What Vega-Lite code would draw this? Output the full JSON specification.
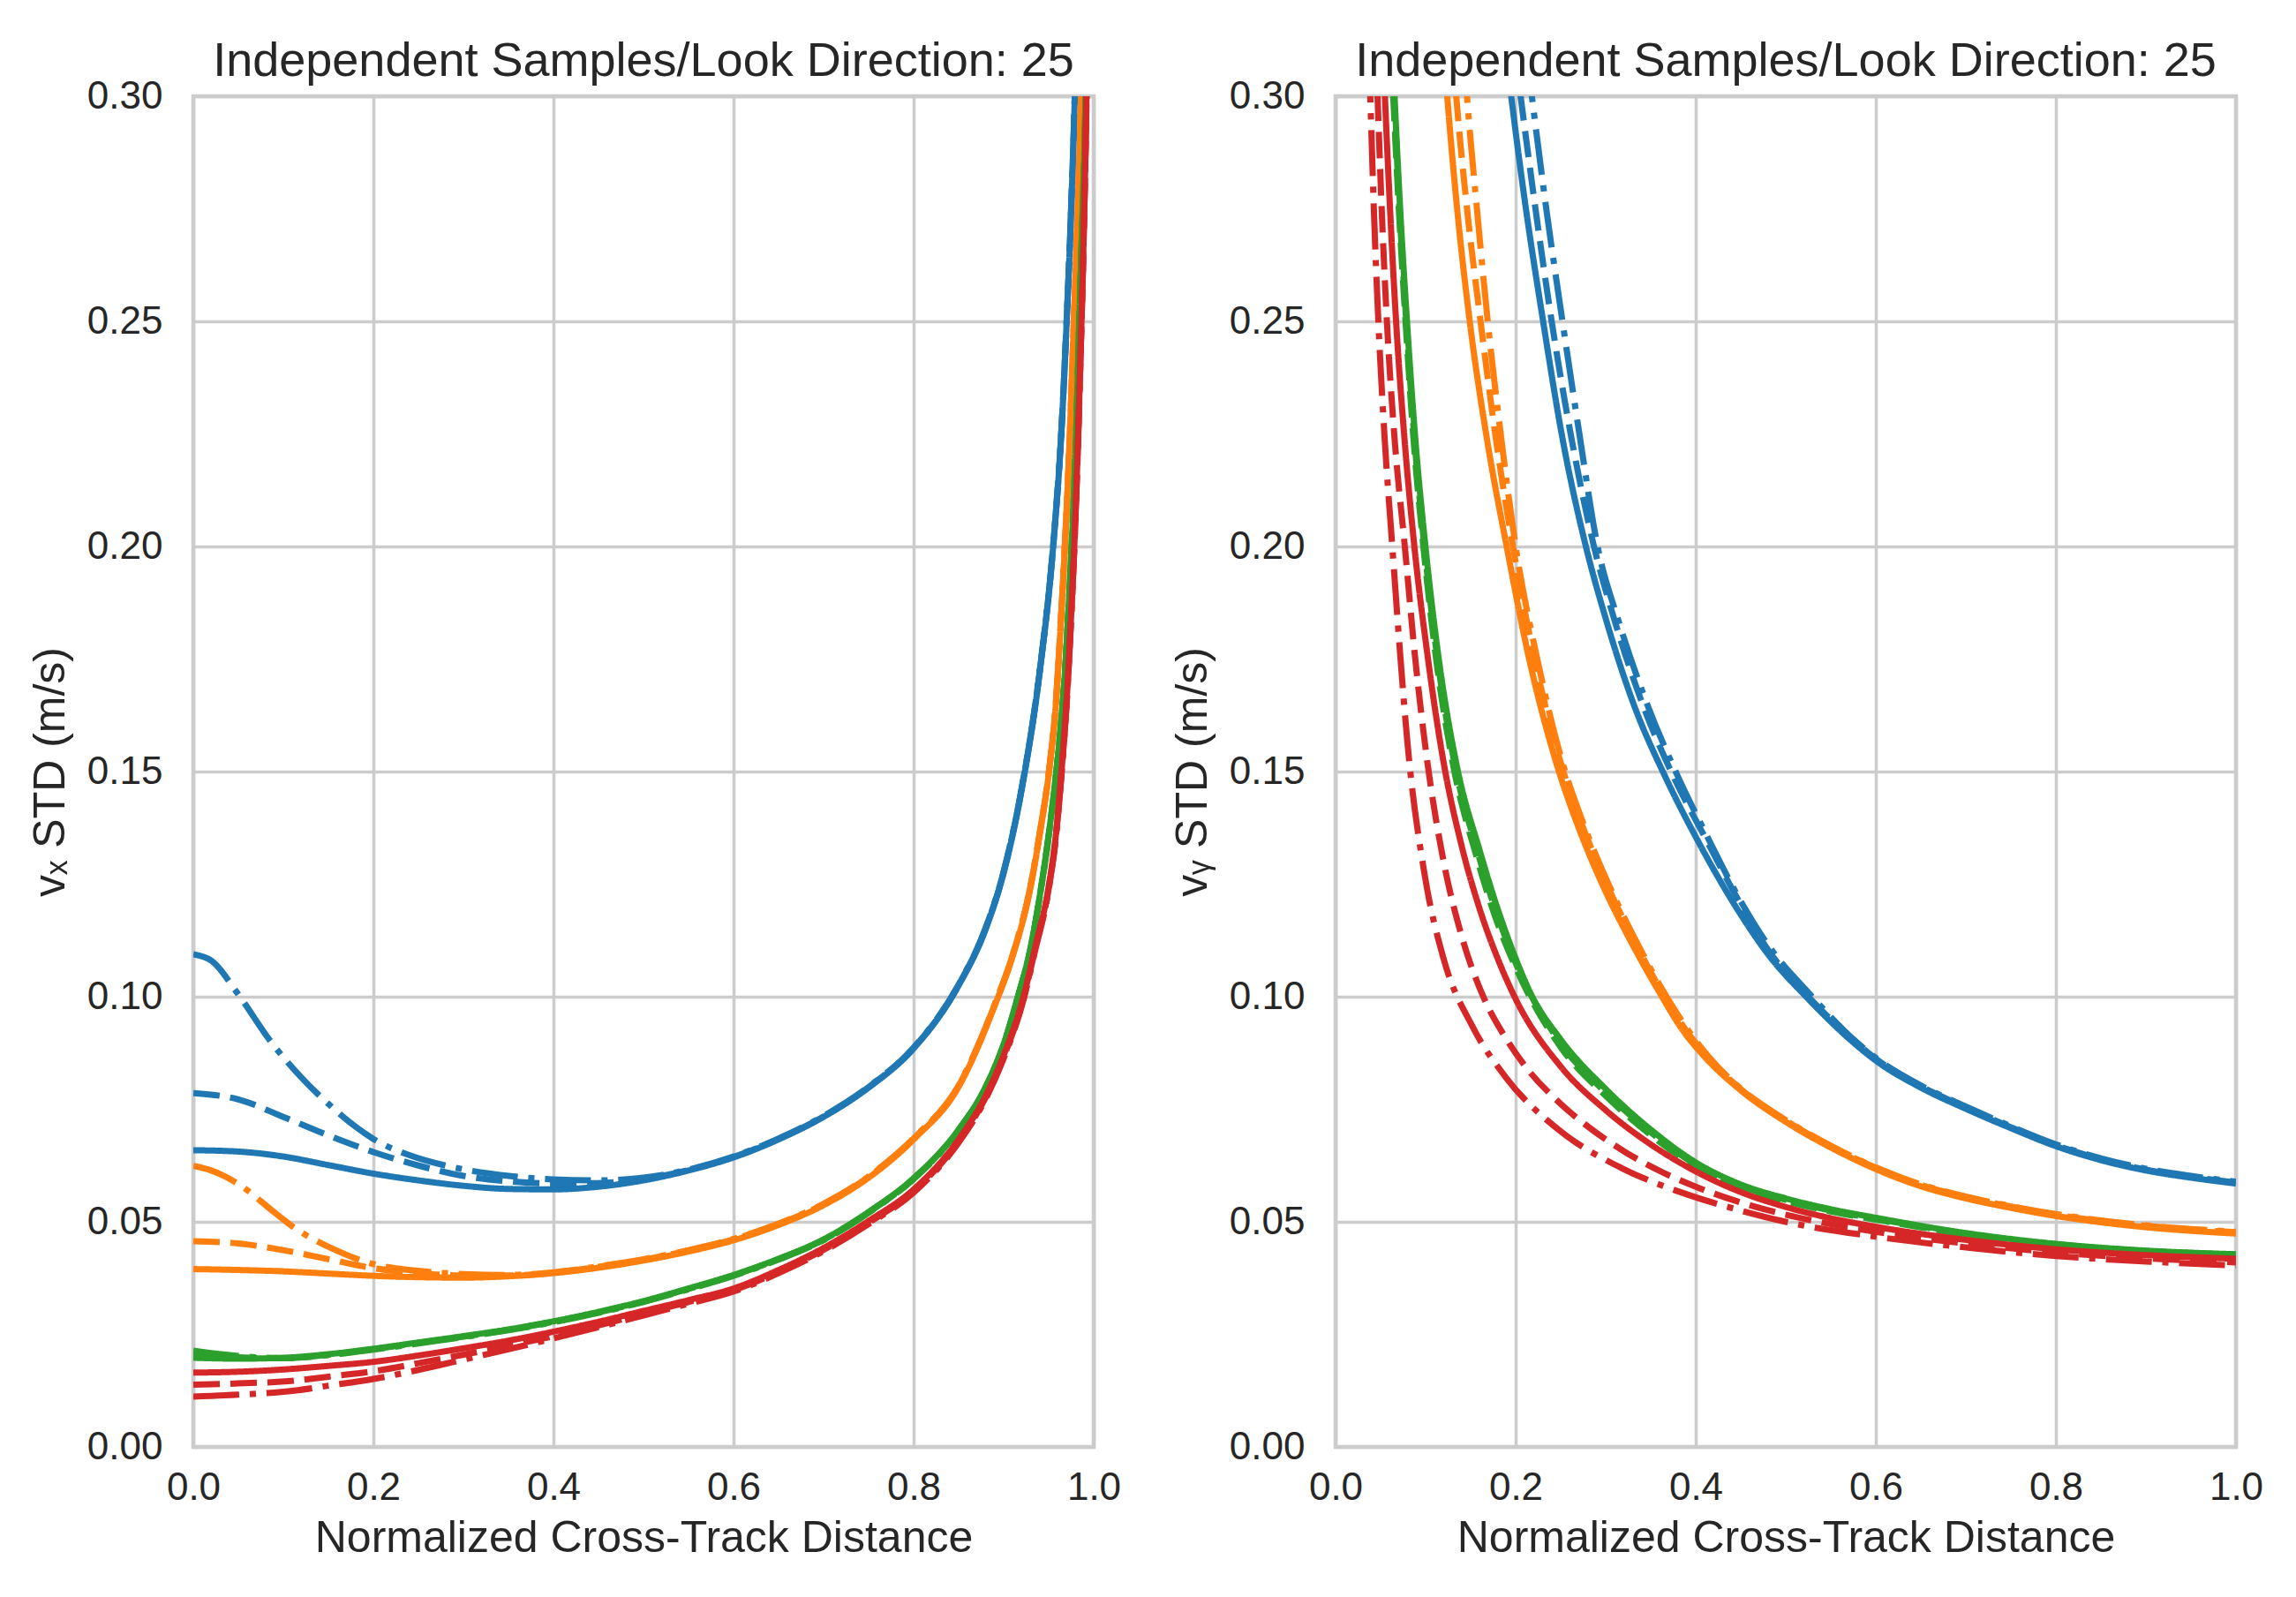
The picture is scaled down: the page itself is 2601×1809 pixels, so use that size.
{
  "$schema": "https://vega.github.io/schema/vega-lite/v6.json",
  "background": "white",
  "padding": {"left": 30, "top": 40, "right": 10, "bottom": 10},
  "bounds": "flush",
  "spacing": 274,
  "datasets": {
    "curves": [
      {"panel":"vx","group":"blue","style":"solid","x":0,"y":0.0659},
      {"panel":"vx","group":"blue","style":"solid","x":0.05,"y":0.0656},
      {"panel":"vx","group":"blue","style":"solid","x":0.1,"y":0.0645},
      {"panel":"vx","group":"blue","style":"solid","x":0.15,"y":0.0626},
      {"panel":"vx","group":"blue","style":"solid","x":0.2,"y":0.0607},
      {"panel":"vx","group":"blue","style":"solid","x":0.25,"y":0.0592},
      {"panel":"vx","group":"blue","style":"solid","x":0.3,"y":0.058},
      {"panel":"vx","group":"blue","style":"solid","x":0.35,"y":0.0573},
      {"panel":"vx","group":"blue","style":"solid","x":0.4,"y":0.0572},
      {"panel":"vx","group":"blue","style":"solid","x":0.45,"y":0.0578},
      {"panel":"vx","group":"blue","style":"solid","x":0.5,"y":0.0592},
      {"panel":"vx","group":"blue","style":"solid","x":0.55,"y":0.0614},
      {"panel":"vx","group":"blue","style":"solid","x":0.6,"y":0.0643},
      {"panel":"vx","group":"blue","style":"solid","x":0.65,"y":0.0683},
      {"panel":"vx","group":"blue","style":"solid","x":0.7,"y":0.0733},
      {"panel":"vx","group":"blue","style":"solid","x":0.75,"y":0.0798},
      {"panel":"vx","group":"blue","style":"solid","x":0.8,"y":0.0885},
      {"panel":"vx","group":"blue","style":"solid","x":0.85,"y":0.1025},
      {"panel":"vx","group":"blue","style":"solid","x":0.88,"y":0.115},
      {"panel":"vx","group":"blue","style":"solid","x":0.9,"y":0.1275},
      {"panel":"vx","group":"blue","style":"solid","x":0.92,"y":0.146},
      {"panel":"vx","group":"blue","style":"solid","x":0.94,"y":0.172},
      {"panel":"vx","group":"blue","style":"solid","x":0.955,"y":0.2},
      {"panel":"vx","group":"blue","style":"solid","x":0.964,"y":0.225},
      {"panel":"vx","group":"blue","style":"solid","x":0.97,"y":0.25},
      {"panel":"vx","group":"blue","style":"solid","x":0.975,"y":0.275},
      {"panel":"vx","group":"blue","style":"solid","x":0.979,"y":0.3},
      {"panel":"vx","group":"blue","style":"solid","x":0.984,"y":0.35},

      {"panel":"vx","group":"blue","style":"dashed","x":0,"y":0.0786},
      {"panel":"vx","group":"blue","style":"dashed","x":0.05,"y":0.0772},
      {"panel":"vx","group":"blue","style":"dashed","x":0.1,"y":0.0733},
      {"panel":"vx","group":"blue","style":"dashed","x":0.15,"y":0.0692},
      {"panel":"vx","group":"blue","style":"dashed","x":0.2,"y":0.0655},
      {"panel":"vx","group":"blue","style":"dashed","x":0.25,"y":0.0625},
      {"panel":"vx","group":"blue","style":"dashed","x":0.3,"y":0.0602},
      {"panel":"vx","group":"blue","style":"dashed","x":0.35,"y":0.059},
      {"panel":"vx","group":"blue","style":"dashed","x":0.4,"y":0.0585},
      {"panel":"vx","group":"blue","style":"dashed","x":0.45,"y":0.0586},
      {"panel":"vx","group":"blue","style":"dashed","x":0.5,"y":0.0595},
      {"panel":"vx","group":"blue","style":"dashed","x":0.55,"y":0.0615},
      {"panel":"vx","group":"blue","style":"dashed","x":0.6,"y":0.0644},
      {"panel":"vx","group":"blue","style":"dashed","x":0.65,"y":0.0684},
      {"panel":"vx","group":"blue","style":"dashed","x":0.7,"y":0.0734},
      {"panel":"vx","group":"blue","style":"dashed","x":0.75,"y":0.0799},
      {"panel":"vx","group":"blue","style":"dashed","x":0.8,"y":0.0886},
      {"panel":"vx","group":"blue","style":"dashed","x":0.85,"y":0.1026},
      {"panel":"vx","group":"blue","style":"dashed","x":0.88,"y":0.1152},
      {"panel":"vx","group":"blue","style":"dashed","x":0.9,"y":0.1277},
      {"panel":"vx","group":"blue","style":"dashed","x":0.92,"y":0.1462},
      {"panel":"vx","group":"blue","style":"dashed","x":0.94,"y":0.1722},
      {"panel":"vx","group":"blue","style":"dashed","x":0.955,"y":0.2002},
      {"panel":"vx","group":"blue","style":"dashed","x":0.964,"y":0.2252},
      {"panel":"vx","group":"blue","style":"dashed","x":0.97,"y":0.2502},
      {"panel":"vx","group":"blue","style":"dashed","x":0.975,"y":0.2752},
      {"panel":"vx","group":"blue","style":"dashed","x":0.979,"y":0.3002},
      {"panel":"vx","group":"blue","style":"dashed","x":0.984,"y":0.35},

      {"panel":"vx","group":"blue","style":"dashdot","x":0,"y":0.1094},
      {"panel":"vx","group":"blue","style":"dashdot","x":0.02,"y":0.108},
      {"panel":"vx","group":"blue","style":"dashdot","x":0.05,"y":0.1005},
      {"panel":"vx","group":"blue","style":"dashdot","x":0.085,"y":0.0903},
      {"panel":"vx","group":"blue","style":"dashdot","x":0.125,"y":0.081},
      {"panel":"vx","group":"blue","style":"dashdot","x":0.15,"y":0.0762},
      {"panel":"vx","group":"blue","style":"dashdot","x":0.177,"y":0.0716},
      {"panel":"vx","group":"blue","style":"dashdot","x":0.2,"y":0.0684},
      {"panel":"vx","group":"blue","style":"dashdot","x":0.24,"y":0.0648},
      {"panel":"vx","group":"blue","style":"dashdot","x":0.28,"y":0.0625},
      {"panel":"vx","group":"blue","style":"dashdot","x":0.31,"y":0.0613},
      {"panel":"vx","group":"blue","style":"dashdot","x":0.35,"y":0.0602},
      {"panel":"vx","group":"blue","style":"dashdot","x":0.4,"y":0.0594},
      {"panel":"vx","group":"blue","style":"dashdot","x":0.45,"y":0.0592},
      {"panel":"vx","group":"blue","style":"dashdot","x":0.5,"y":0.0598},
      {"panel":"vx","group":"blue","style":"dashdot","x":0.55,"y":0.0616},
      {"panel":"vx","group":"blue","style":"dashdot","x":0.6,"y":0.0645},
      {"panel":"vx","group":"blue","style":"dashdot","x":0.65,"y":0.0685},
      {"panel":"vx","group":"blue","style":"dashdot","x":0.7,"y":0.0735},
      {"panel":"vx","group":"blue","style":"dashdot","x":0.75,"y":0.08},
      {"panel":"vx","group":"blue","style":"dashdot","x":0.8,"y":0.0887},
      {"panel":"vx","group":"blue","style":"dashdot","x":0.85,"y":0.1027},
      {"panel":"vx","group":"blue","style":"dashdot","x":0.88,"y":0.1153},
      {"panel":"vx","group":"blue","style":"dashdot","x":0.9,"y":0.1278},
      {"panel":"vx","group":"blue","style":"dashdot","x":0.92,"y":0.1463},
      {"panel":"vx","group":"blue","style":"dashdot","x":0.94,"y":0.1723},
      {"panel":"vx","group":"blue","style":"dashdot","x":0.955,"y":0.2003},
      {"panel":"vx","group":"blue","style":"dashdot","x":0.964,"y":0.2253},
      {"panel":"vx","group":"blue","style":"dashdot","x":0.97,"y":0.2503},
      {"panel":"vx","group":"blue","style":"dashdot","x":0.975,"y":0.2753},
      {"panel":"vx","group":"blue","style":"dashdot","x":0.979,"y":0.3003},
      {"panel":"vx","group":"blue","style":"dashdot","x":0.984,"y":0.35},

      {"panel":"vx","group":"orange","style":"solid","x":0,"y":0.0395},
      {"panel":"vx","group":"orange","style":"solid","x":0.05,"y":0.0393},
      {"panel":"vx","group":"orange","style":"solid","x":0.1,"y":0.039},
      {"panel":"vx","group":"orange","style":"solid","x":0.15,"y":0.0385},
      {"panel":"vx","group":"orange","style":"solid","x":0.2,"y":0.038},
      {"panel":"vx","group":"orange","style":"solid","x":0.25,"y":0.0377},
      {"panel":"vx","group":"orange","style":"solid","x":0.3,"y":0.0376},
      {"panel":"vx","group":"orange","style":"solid","x":0.35,"y":0.0379},
      {"panel":"vx","group":"orange","style":"solid","x":0.4,"y":0.0386},
      {"panel":"vx","group":"orange","style":"solid","x":0.45,"y":0.0398},
      {"panel":"vx","group":"orange","style":"solid","x":0.5,"y":0.0414},
      {"panel":"vx","group":"orange","style":"solid","x":0.55,"y":0.0434},
      {"panel":"vx","group":"orange","style":"solid","x":0.6,"y":0.0459},
      {"panel":"vx","group":"orange","style":"solid","x":0.65,"y":0.0493},
      {"panel":"vx","group":"orange","style":"solid","x":0.7,"y":0.0537},
      {"panel":"vx","group":"orange","style":"solid","x":0.75,"y":0.0598},
      {"panel":"vx","group":"orange","style":"solid","x":0.8,"y":0.0683},
      {"panel":"vx","group":"orange","style":"solid","x":0.85,"y":0.08},
      {"panel":"vx","group":"orange","style":"solid","x":0.89,"y":0.098},
      {"panel":"vx","group":"orange","style":"solid","x":0.91,"y":0.109},
      {"panel":"vx","group":"orange","style":"solid","x":0.93,"y":0.1245},
      {"panel":"vx","group":"orange","style":"solid","x":0.94,"y":0.136},
      {"panel":"vx","group":"orange","style":"solid","x":0.951,"y":0.151},
      {"panel":"vx","group":"orange","style":"solid","x":0.958,"y":0.165},
      {"panel":"vx","group":"orange","style":"solid","x":0.964,"y":0.185},
      {"panel":"vx","group":"orange","style":"solid","x":0.968,"y":0.2},
      {"panel":"vx","group":"orange","style":"solid","x":0.973,"y":0.222},
      {"panel":"vx","group":"orange","style":"solid","x":0.978,"y":0.25},
      {"panel":"vx","group":"orange","style":"solid","x":0.982,"y":0.273},
      {"panel":"vx","group":"orange","style":"solid","x":0.986,"y":0.3},
      {"panel":"vx","group":"orange","style":"solid","x":0.99,"y":0.34},

      {"panel":"vx","group":"orange","style":"dashed","x":0,"y":0.0457},
      {"panel":"vx","group":"orange","style":"dashed","x":0.05,"y":0.0452},
      {"panel":"vx","group":"orange","style":"dashed","x":0.1,"y":0.0437},
      {"panel":"vx","group":"orange","style":"dashed","x":0.15,"y":0.0417},
      {"panel":"vx","group":"orange","style":"dashed","x":0.2,"y":0.0397},
      {"panel":"vx","group":"orange","style":"dashed","x":0.25,"y":0.0386},
      {"panel":"vx","group":"orange","style":"dashed","x":0.3,"y":0.0381},
      {"panel":"vx","group":"orange","style":"dashed","x":0.35,"y":0.0381},
      {"panel":"vx","group":"orange","style":"dashed","x":0.4,"y":0.0387},
      {"panel":"vx","group":"orange","style":"dashed","x":0.45,"y":0.04},
      {"panel":"vx","group":"orange","style":"dashed","x":0.5,"y":0.0416},
      {"panel":"vx","group":"orange","style":"dashed","x":0.55,"y":0.0436},
      {"panel":"vx","group":"orange","style":"dashed","x":0.6,"y":0.0461},
      {"panel":"vx","group":"orange","style":"dashed","x":0.65,"y":0.0495},
      {"panel":"vx","group":"orange","style":"dashed","x":0.7,"y":0.0539},
      {"panel":"vx","group":"orange","style":"dashed","x":0.75,"y":0.06},
      {"panel":"vx","group":"orange","style":"dashed","x":0.8,"y":0.0685},
      {"panel":"vx","group":"orange","style":"dashed","x":0.85,"y":0.0802},
      {"panel":"vx","group":"orange","style":"dashed","x":0.89,"y":0.0982},
      {"panel":"vx","group":"orange","style":"dashed","x":0.91,"y":0.1092},
      {"panel":"vx","group":"orange","style":"dashed","x":0.93,"y":0.1247},
      {"panel":"vx","group":"orange","style":"dashed","x":0.94,"y":0.1362},
      {"panel":"vx","group":"orange","style":"dashed","x":0.951,"y":0.1512},
      {"panel":"vx","group":"orange","style":"dashed","x":0.958,"y":0.1652},
      {"panel":"vx","group":"orange","style":"dashed","x":0.964,"y":0.1852},
      {"panel":"vx","group":"orange","style":"dashed","x":0.968,"y":0.2002},
      {"panel":"vx","group":"orange","style":"dashed","x":0.973,"y":0.2222},
      {"panel":"vx","group":"orange","style":"dashed","x":0.978,"y":0.2502},
      {"panel":"vx","group":"orange","style":"dashed","x":0.982,"y":0.2732},
      {"panel":"vx","group":"orange","style":"dashed","x":0.986,"y":0.3002},
      {"panel":"vx","group":"orange","style":"dashed","x":0.99,"y":0.34},

      {"panel":"vx","group":"orange","style":"dashdot","x":0,"y":0.0624},
      {"panel":"vx","group":"orange","style":"dashdot","x":0.02,"y":0.0614},
      {"panel":"vx","group":"orange","style":"dashdot","x":0.05,"y":0.0584},
      {"panel":"vx","group":"orange","style":"dashdot","x":0.09,"y":0.0521},
      {"panel":"vx","group":"orange","style":"dashdot","x":0.112,"y":0.0487},
      {"panel":"vx","group":"orange","style":"dashdot","x":0.155,"y":0.044},
      {"panel":"vx","group":"orange","style":"dashdot","x":0.2,"y":0.0406},
      {"panel":"vx","group":"orange","style":"dashdot","x":0.25,"y":0.0391},
      {"panel":"vx","group":"orange","style":"dashdot","x":0.3,"y":0.0384},
      {"panel":"vx","group":"orange","style":"dashdot","x":0.35,"y":0.0382},
      {"panel":"vx","group":"orange","style":"dashdot","x":0.4,"y":0.0388},
      {"panel":"vx","group":"orange","style":"dashdot","x":0.45,"y":0.0401},
      {"panel":"vx","group":"orange","style":"dashdot","x":0.5,"y":0.0417},
      {"panel":"vx","group":"orange","style":"dashdot","x":0.55,"y":0.0437},
      {"panel":"vx","group":"orange","style":"dashdot","x":0.6,"y":0.0462},
      {"panel":"vx","group":"orange","style":"dashdot","x":0.65,"y":0.0496},
      {"panel":"vx","group":"orange","style":"dashdot","x":0.7,"y":0.054},
      {"panel":"vx","group":"orange","style":"dashdot","x":0.75,"y":0.0601},
      {"panel":"vx","group":"orange","style":"dashdot","x":0.8,"y":0.0686},
      {"panel":"vx","group":"orange","style":"dashdot","x":0.85,"y":0.0803},
      {"panel":"vx","group":"orange","style":"dashdot","x":0.89,"y":0.0983},
      {"panel":"vx","group":"orange","style":"dashdot","x":0.91,"y":0.1093},
      {"panel":"vx","group":"orange","style":"dashdot","x":0.93,"y":0.1248},
      {"panel":"vx","group":"orange","style":"dashdot","x":0.94,"y":0.1363},
      {"panel":"vx","group":"orange","style":"dashdot","x":0.951,"y":0.1513},
      {"panel":"vx","group":"orange","style":"dashdot","x":0.958,"y":0.1653},
      {"panel":"vx","group":"orange","style":"dashdot","x":0.964,"y":0.1853},
      {"panel":"vx","group":"orange","style":"dashdot","x":0.968,"y":0.2003},
      {"panel":"vx","group":"orange","style":"dashdot","x":0.973,"y":0.2223},
      {"panel":"vx","group":"orange","style":"dashdot","x":0.978,"y":0.2503},
      {"panel":"vx","group":"orange","style":"dashdot","x":0.982,"y":0.2733},
      {"panel":"vx","group":"orange","style":"dashdot","x":0.986,"y":0.3003},
      {"panel":"vx","group":"orange","style":"dashdot","x":0.99,"y":0.34},

      {"panel":"vx","group":"green","style":"solid","x":0,"y":0.0198},
      {"panel":"vx","group":"green","style":"solid","x":0.05,"y":0.0196},
      {"panel":"vx","group":"green","style":"solid","x":0.1,"y":0.0198},
      {"panel":"vx","group":"green","style":"solid","x":0.15,"y":0.0206},
      {"panel":"vx","group":"green","style":"solid","x":0.2,"y":0.0218},
      {"panel":"vx","group":"green","style":"solid","x":0.25,"y":0.0232},
      {"panel":"vx","group":"green","style":"solid","x":0.3,"y":0.0246},
      {"panel":"vx","group":"green","style":"solid","x":0.35,"y":0.0261},
      {"panel":"vx","group":"green","style":"solid","x":0.4,"y":0.0279},
      {"panel":"vx","group":"green","style":"solid","x":0.45,"y":0.03},
      {"panel":"vx","group":"green","style":"solid","x":0.5,"y":0.0324},
      {"panel":"vx","group":"green","style":"solid","x":0.55,"y":0.0352},
      {"panel":"vx","group":"green","style":"solid","x":0.6,"y":0.0382},
      {"panel":"vx","group":"green","style":"solid","x":0.65,"y":0.0418},
      {"panel":"vx","group":"green","style":"solid","x":0.7,"y":0.0461},
      {"panel":"vx","group":"green","style":"solid","x":0.75,"y":0.0522},
      {"panel":"vx","group":"green","style":"solid","x":0.8,"y":0.0597},
      {"panel":"vx","group":"green","style":"solid","x":0.85,"y":0.0705},
      {"panel":"vx","group":"green","style":"solid","x":0.88,"y":0.08},
      {"panel":"vx","group":"green","style":"solid","x":0.9,"y":0.0895},
      {"panel":"vx","group":"green","style":"solid","x":0.915,"y":0.0995},
      {"panel":"vx","group":"green","style":"solid","x":0.93,"y":0.111},
      {"panel":"vx","group":"green","style":"solid","x":0.941,"y":0.1235},
      {"panel":"vx","group":"green","style":"solid","x":0.952,"y":0.139},
      {"panel":"vx","group":"green","style":"solid","x":0.961,"y":0.155},
      {"panel":"vx","group":"green","style":"solid","x":0.968,"y":0.172},
      {"panel":"vx","group":"green","style":"solid","x":0.973,"y":0.19},
      {"panel":"vx","group":"green","style":"solid","x":0.977,"y":0.207},
      {"panel":"vx","group":"green","style":"solid","x":0.981,"y":0.228},
      {"panel":"vx","group":"green","style":"solid","x":0.984,"y":0.25},
      {"panel":"vx","group":"green","style":"solid","x":0.987,"y":0.27},
      {"panel":"vx","group":"green","style":"solid","x":0.991,"y":0.3},
      {"panel":"vx","group":"green","style":"solid","x":0.994,"y":0.34},

      {"panel":"vx","group":"green","style":"dashed","x":0,"y":0.0206},
      {"panel":"vx","group":"green","style":"dashed","x":0.05,"y":0.0199},
      {"panel":"vx","group":"green","style":"dashed","x":0.1,"y":0.0197},
      {"panel":"vx","group":"green","style":"dashed","x":0.15,"y":0.0205},
      {"panel":"vx","group":"green","style":"dashed","x":0.2,"y":0.0217},
      {"panel":"vx","group":"green","style":"dashed","x":0.25,"y":0.0231},
      {"panel":"vx","group":"green","style":"dashed","x":0.3,"y":0.0245},
      {"panel":"vx","group":"green","style":"dashed","x":0.35,"y":0.026},
      {"panel":"vx","group":"green","style":"dashed","x":0.4,"y":0.0278},
      {"panel":"vx","group":"green","style":"dashed","x":0.45,"y":0.0299},
      {"panel":"vx","group":"green","style":"dashed","x":0.5,"y":0.0323},
      {"panel":"vx","group":"green","style":"dashed","x":0.55,"y":0.0351},
      {"panel":"vx","group":"green","style":"dashed","x":0.6,"y":0.0381},
      {"panel":"vx","group":"green","style":"dashed","x":0.65,"y":0.0417},
      {"panel":"vx","group":"green","style":"dashed","x":0.7,"y":0.046},
      {"panel":"vx","group":"green","style":"dashed","x":0.75,"y":0.0521},
      {"panel":"vx","group":"green","style":"dashed","x":0.8,"y":0.0596},
      {"panel":"vx","group":"green","style":"dashed","x":0.85,"y":0.0704},
      {"panel":"vx","group":"green","style":"dashed","x":0.88,"y":0.0799},
      {"panel":"vx","group":"green","style":"dashed","x":0.9,"y":0.0894},
      {"panel":"vx","group":"green","style":"dashed","x":0.915,"y":0.0994},
      {"panel":"vx","group":"green","style":"dashed","x":0.93,"y":0.1109},
      {"panel":"vx","group":"green","style":"dashed","x":0.941,"y":0.1234},
      {"panel":"vx","group":"green","style":"dashed","x":0.952,"y":0.1389},
      {"panel":"vx","group":"green","style":"dashed","x":0.961,"y":0.1549},
      {"panel":"vx","group":"green","style":"dashed","x":0.968,"y":0.1719},
      {"panel":"vx","group":"green","style":"dashed","x":0.973,"y":0.1899},
      {"panel":"vx","group":"green","style":"dashed","x":0.977,"y":0.2069},
      {"panel":"vx","group":"green","style":"dashed","x":0.981,"y":0.2279},
      {"panel":"vx","group":"green","style":"dashed","x":0.984,"y":0.2499},
      {"panel":"vx","group":"green","style":"dashed","x":0.987,"y":0.2699},
      {"panel":"vx","group":"green","style":"dashed","x":0.991,"y":0.2999},
      {"panel":"vx","group":"green","style":"dashed","x":0.994,"y":0.34},

      {"panel":"vx","group":"green","style":"dashdot","x":0,"y":0.0214},
      {"panel":"vx","group":"green","style":"dashdot","x":0.05,"y":0.0202},
      {"panel":"vx","group":"green","style":"dashdot","x":0.1,"y":0.0197},
      {"panel":"vx","group":"green","style":"dashdot","x":0.15,"y":0.0204},
      {"panel":"vx","group":"green","style":"dashdot","x":0.2,"y":0.0216},
      {"panel":"vx","group":"green","style":"dashdot","x":0.25,"y":0.023},
      {"panel":"vx","group":"green","style":"dashdot","x":0.3,"y":0.0244},
      {"panel":"vx","group":"green","style":"dashdot","x":0.35,"y":0.0259},
      {"panel":"vx","group":"green","style":"dashdot","x":0.4,"y":0.0277},
      {"panel":"vx","group":"green","style":"dashdot","x":0.45,"y":0.0298},
      {"panel":"vx","group":"green","style":"dashdot","x":0.5,"y":0.0322},
      {"panel":"vx","group":"green","style":"dashdot","x":0.55,"y":0.035},
      {"panel":"vx","group":"green","style":"dashdot","x":0.6,"y":0.038},
      {"panel":"vx","group":"green","style":"dashdot","x":0.65,"y":0.0416},
      {"panel":"vx","group":"green","style":"dashdot","x":0.7,"y":0.0459},
      {"panel":"vx","group":"green","style":"dashdot","x":0.75,"y":0.052},
      {"panel":"vx","group":"green","style":"dashdot","x":0.8,"y":0.0595},
      {"panel":"vx","group":"green","style":"dashdot","x":0.85,"y":0.0703},
      {"panel":"vx","group":"green","style":"dashdot","x":0.88,"y":0.0798},
      {"panel":"vx","group":"green","style":"dashdot","x":0.9,"y":0.0893},
      {"panel":"vx","group":"green","style":"dashdot","x":0.915,"y":0.0993},
      {"panel":"vx","group":"green","style":"dashdot","x":0.93,"y":0.1108},
      {"panel":"vx","group":"green","style":"dashdot","x":0.941,"y":0.1233},
      {"panel":"vx","group":"green","style":"dashdot","x":0.952,"y":0.1388},
      {"panel":"vx","group":"green","style":"dashdot","x":0.961,"y":0.1548},
      {"panel":"vx","group":"green","style":"dashdot","x":0.968,"y":0.1718},
      {"panel":"vx","group":"green","style":"dashdot","x":0.973,"y":0.1898},
      {"panel":"vx","group":"green","style":"dashdot","x":0.977,"y":0.2068},
      {"panel":"vx","group":"green","style":"dashdot","x":0.981,"y":0.2278},
      {"panel":"vx","group":"green","style":"dashdot","x":0.984,"y":0.2498},
      {"panel":"vx","group":"green","style":"dashdot","x":0.987,"y":0.2698},
      {"panel":"vx","group":"green","style":"dashdot","x":0.991,"y":0.2998},
      {"panel":"vx","group":"green","style":"dashdot","x":0.994,"y":0.34},

      {"panel":"vx","group":"red","style":"solid","x":0,"y":0.0165},
      {"panel":"vx","group":"red","style":"solid","x":0.05,"y":0.0167},
      {"panel":"vx","group":"red","style":"solid","x":0.1,"y":0.0172},
      {"panel":"vx","group":"red","style":"solid","x":0.15,"y":0.018},
      {"panel":"vx","group":"red","style":"solid","x":0.2,"y":0.0189},
      {"panel":"vx","group":"red","style":"solid","x":0.25,"y":0.0203},
      {"panel":"vx","group":"red","style":"solid","x":0.3,"y":0.0219},
      {"panel":"vx","group":"red","style":"solid","x":0.35,"y":0.0236},
      {"panel":"vx","group":"red","style":"solid","x":0.4,"y":0.0256},
      {"panel":"vx","group":"red","style":"solid","x":0.45,"y":0.0278},
      {"panel":"vx","group":"red","style":"solid","x":0.5,"y":0.0302},
      {"panel":"vx","group":"red","style":"solid","x":0.55,"y":0.0326},
      {"panel":"vx","group":"red","style":"solid","x":0.6,"y":0.0352},
      {"panel":"vx","group":"red","style":"solid","x":0.65,"y":0.0393},
      {"panel":"vx","group":"red","style":"solid","x":0.7,"y":0.0442},
      {"panel":"vx","group":"red","style":"solid","x":0.75,"y":0.0502},
      {"panel":"vx","group":"red","style":"solid","x":0.8,"y":0.0572},
      {"panel":"vx","group":"red","style":"solid","x":0.85,"y":0.0683},
      {"panel":"vx","group":"red","style":"solid","x":0.88,"y":0.078},
      {"panel":"vx","group":"red","style":"solid","x":0.9,"y":0.087},
      {"panel":"vx","group":"red","style":"solid","x":0.922,"y":0.1},
      {"panel":"vx","group":"red","style":"solid","x":0.935,"y":0.111},
      {"panel":"vx","group":"red","style":"solid","x":0.95,"y":0.1245},
      {"panel":"vx","group":"red","style":"solid","x":0.958,"y":0.136},
      {"panel":"vx","group":"red","style":"solid","x":0.965,"y":0.152},
      {"panel":"vx","group":"red","style":"solid","x":0.97,"y":0.166},
      {"panel":"vx","group":"red","style":"solid","x":0.975,"y":0.185},
      {"panel":"vx","group":"red","style":"solid","x":0.979,"y":0.203},
      {"panel":"vx","group":"red","style":"solid","x":0.982,"y":0.22},
      {"panel":"vx","group":"red","style":"solid","x":0.985,"y":0.24},
      {"panel":"vx","group":"red","style":"solid","x":0.988,"y":0.262},
      {"panel":"vx","group":"red","style":"solid","x":0.992,"y":0.3},
      {"panel":"vx","group":"red","style":"solid","x":0.995,"y":0.34},

      {"panel":"vx","group":"red","style":"dashed","x":0,"y":0.0138},
      {"panel":"vx","group":"red","style":"dashed","x":0.05,"y":0.0141},
      {"panel":"vx","group":"red","style":"dashed","x":0.112,"y":0.0147},
      {"panel":"vx","group":"red","style":"dashed","x":0.15,"y":0.0156},
      {"panel":"vx","group":"red","style":"dashed","x":0.2,"y":0.0168},
      {"panel":"vx","group":"red","style":"dashed","x":0.25,"y":0.0186},
      {"panel":"vx","group":"red","style":"dashed","x":0.3,"y":0.0205},
      {"panel":"vx","group":"red","style":"dashed","x":0.35,"y":0.0225},
      {"panel":"vx","group":"red","style":"dashed","x":0.4,"y":0.0246},
      {"panel":"vx","group":"red","style":"dashed","x":0.45,"y":0.027},
      {"panel":"vx","group":"red","style":"dashed","x":0.5,"y":0.0296},
      {"panel":"vx","group":"red","style":"dashed","x":0.55,"y":0.0322},
      {"panel":"vx","group":"red","style":"dashed","x":0.6,"y":0.0348},
      {"panel":"vx","group":"red","style":"dashed","x":0.65,"y":0.0389},
      {"panel":"vx","group":"red","style":"dashed","x":0.7,"y":0.0438},
      {"panel":"vx","group":"red","style":"dashed","x":0.75,"y":0.0498},
      {"panel":"vx","group":"red","style":"dashed","x":0.8,"y":0.0568},
      {"panel":"vx","group":"red","style":"dashed","x":0.85,"y":0.0679},
      {"panel":"vx","group":"red","style":"dashed","x":0.88,"y":0.0776},
      {"panel":"vx","group":"red","style":"dashed","x":0.9,"y":0.0866},
      {"panel":"vx","group":"red","style":"dashed","x":0.922,"y":0.0996},
      {"panel":"vx","group":"red","style":"dashed","x":0.935,"y":0.1106},
      {"panel":"vx","group":"red","style":"dashed","x":0.95,"y":0.1241},
      {"panel":"vx","group":"red","style":"dashed","x":0.958,"y":0.1356},
      {"panel":"vx","group":"red","style":"dashed","x":0.965,"y":0.1516},
      {"panel":"vx","group":"red","style":"dashed","x":0.97,"y":0.1656},
      {"panel":"vx","group":"red","style":"dashed","x":0.975,"y":0.1846},
      {"panel":"vx","group":"red","style":"dashed","x":0.979,"y":0.2026},
      {"panel":"vx","group":"red","style":"dashed","x":0.982,"y":0.2196},
      {"panel":"vx","group":"red","style":"dashed","x":0.985,"y":0.2396},
      {"panel":"vx","group":"red","style":"dashed","x":0.988,"y":0.2616},
      {"panel":"vx","group":"red","style":"dashed","x":0.992,"y":0.2996},
      {"panel":"vx","group":"red","style":"dashed","x":0.995,"y":0.34},

      {"panel":"vx","group":"red","style":"dashdot","x":0,"y":0.0112},
      {"panel":"vx","group":"red","style":"dashdot","x":0.05,"y":0.0116},
      {"panel":"vx","group":"red","style":"dashdot","x":0.112,"y":0.0125},
      {"panel":"vx","group":"red","style":"dashdot","x":0.15,"y":0.0136},
      {"panel":"vx","group":"red","style":"dashdot","x":0.2,"y":0.0151},
      {"panel":"vx","group":"red","style":"dashdot","x":0.25,"y":0.0171},
      {"panel":"vx","group":"red","style":"dashdot","x":0.3,"y":0.0194},
      {"panel":"vx","group":"red","style":"dashdot","x":0.35,"y":0.0217},
      {"panel":"vx","group":"red","style":"dashdot","x":0.4,"y":0.0241},
      {"panel":"vx","group":"red","style":"dashdot","x":0.45,"y":0.0266},
      {"panel":"vx","group":"red","style":"dashdot","x":0.5,"y":0.0292},
      {"panel":"vx","group":"red","style":"dashdot","x":0.55,"y":0.0318},
      {"panel":"vx","group":"red","style":"dashdot","x":0.6,"y":0.0345},
      {"panel":"vx","group":"red","style":"dashdot","x":0.65,"y":0.0386},
      {"panel":"vx","group":"red","style":"dashdot","x":0.7,"y":0.0435},
      {"panel":"vx","group":"red","style":"dashdot","x":0.75,"y":0.0495},
      {"panel":"vx","group":"red","style":"dashdot","x":0.8,"y":0.0565},
      {"panel":"vx","group":"red","style":"dashdot","x":0.85,"y":0.0676},
      {"panel":"vx","group":"red","style":"dashdot","x":0.88,"y":0.0773},
      {"panel":"vx","group":"red","style":"dashdot","x":0.9,"y":0.0863},
      {"panel":"vx","group":"red","style":"dashdot","x":0.922,"y":0.0993},
      {"panel":"vx","group":"red","style":"dashdot","x":0.935,"y":0.1103},
      {"panel":"vx","group":"red","style":"dashdot","x":0.95,"y":0.1238},
      {"panel":"vx","group":"red","style":"dashdot","x":0.958,"y":0.1353},
      {"panel":"vx","group":"red","style":"dashdot","x":0.965,"y":0.1513},
      {"panel":"vx","group":"red","style":"dashdot","x":0.97,"y":0.1653},
      {"panel":"vx","group":"red","style":"dashdot","x":0.975,"y":0.1843},
      {"panel":"vx","group":"red","style":"dashdot","x":0.979,"y":0.2023},
      {"panel":"vx","group":"red","style":"dashdot","x":0.982,"y":0.2193},
      {"panel":"vx","group":"red","style":"dashdot","x":0.985,"y":0.2393},
      {"panel":"vx","group":"red","style":"dashdot","x":0.988,"y":0.2613},
      {"panel":"vx","group":"red","style":"dashdot","x":0.992,"y":0.2993},
      {"panel":"vx","group":"red","style":"dashdot","x":0.995,"y":0.34},

      {"panel":"vy","group":"blue","style":"solid","x":0.18,"y":0.325},
      {"panel":"vy","group":"blue","style":"solid","x":0.195,"y":0.3},
      {"panel":"vy","group":"blue","style":"solid","x":0.21,"y":0.277},
      {"panel":"vy","group":"blue","style":"solid","x":0.2305,"y":0.25},
      {"panel":"vy","group":"blue","style":"solid","x":0.252,"y":0.224},
      {"panel":"vy","group":"blue","style":"solid","x":0.278,"y":0.2},
      {"panel":"vy","group":"blue","style":"solid","x":0.3,"y":0.184},
      {"panel":"vy","group":"blue","style":"solid","x":0.331,"y":0.165},
      {"panel":"vy","group":"blue","style":"solid","x":0.367,"y":0.1485},
      {"panel":"vy","group":"blue","style":"solid","x":0.4,"y":0.1355},
      {"panel":"vy","group":"blue","style":"solid","x":0.446,"y":0.1195},
      {"panel":"vy","group":"blue","style":"solid","x":0.48,"y":0.1095},
      {"panel":"vy","group":"blue","style":"solid","x":0.525,"y":0.0995},
      {"panel":"vy","group":"blue","style":"solid","x":0.577,"y":0.0895},
      {"panel":"vy","group":"blue","style":"solid","x":0.6,"y":0.0858},
      {"panel":"vy","group":"blue","style":"solid","x":0.65,"y":0.0798},
      {"panel":"vy","group":"blue","style":"solid","x":0.7,"y":0.0751},
      {"panel":"vy","group":"blue","style":"solid","x":0.75,"y":0.0708},
      {"panel":"vy","group":"blue","style":"solid","x":0.8,"y":0.0668},
      {"panel":"vy","group":"blue","style":"solid","x":0.85,"y":0.0637},
      {"panel":"vy","group":"blue","style":"solid","x":0.9,"y":0.0614},
      {"panel":"vy","group":"blue","style":"solid","x":0.95,"y":0.0598},
      {"panel":"vy","group":"blue","style":"solid","x":1,"y":0.0585},

      {"panel":"vy","group":"blue","style":"dashed","x":0.19,"y":0.325},
      {"panel":"vy","group":"blue","style":"dashed","x":0.2055,"y":0.3},
      {"panel":"vy","group":"blue","style":"dashed","x":0.222,"y":0.275},
      {"panel":"vy","group":"blue","style":"dashed","x":0.24,"y":0.25},
      {"panel":"vy","group":"blue","style":"dashed","x":0.262,"y":0.224},
      {"panel":"vy","group":"blue","style":"dashed","x":0.287,"y":0.2},
      {"panel":"vy","group":"blue","style":"dashed","x":0.31,"y":0.1835},
      {"panel":"vy","group":"blue","style":"dashed","x":0.34,"y":0.1655},
      {"panel":"vy","group":"blue","style":"dashed","x":0.375,"y":0.149},
      {"panel":"vy","group":"blue","style":"dashed","x":0.41,"y":0.1355},
      {"panel":"vy","group":"blue","style":"dashed","x":0.45,"y":0.1205},
      {"panel":"vy","group":"blue","style":"dashed","x":0.48,"y":0.1105},
      {"panel":"vy","group":"blue","style":"dashed","x":0.525,"y":0.1},
      {"panel":"vy","group":"blue","style":"dashed","x":0.577,"y":0.09},
      {"panel":"vy","group":"blue","style":"dashed","x":0.6,"y":0.0862},
      {"panel":"vy","group":"blue","style":"dashed","x":0.65,"y":0.0801},
      {"panel":"vy","group":"blue","style":"dashed","x":0.7,"y":0.0754},
      {"panel":"vy","group":"blue","style":"dashed","x":0.75,"y":0.071},
      {"panel":"vy","group":"blue","style":"dashed","x":0.8,"y":0.067},
      {"panel":"vy","group":"blue","style":"dashed","x":0.85,"y":0.0639},
      {"panel":"vy","group":"blue","style":"dashed","x":0.9,"y":0.0616},
      {"panel":"vy","group":"blue","style":"dashed","x":0.95,"y":0.06},
      {"panel":"vy","group":"blue","style":"dashed","x":1,"y":0.0587},

      {"panel":"vy","group":"blue","style":"dashdot","x":0.203,"y":0.325},
      {"panel":"vy","group":"blue","style":"dashdot","x":0.218,"y":0.3},
      {"panel":"vy","group":"blue","style":"dashdot","x":0.234,"y":0.275},
      {"panel":"vy","group":"blue","style":"dashdot","x":0.252,"y":0.25},
      {"panel":"vy","group":"blue","style":"dashdot","x":0.27,"y":0.226},
      {"panel":"vy","group":"blue","style":"dashdot","x":0.291,"y":0.2},
      {"panel":"vy","group":"blue","style":"dashdot","x":0.315,"y":0.183},
      {"panel":"vy","group":"blue","style":"dashdot","x":0.345,"y":0.1655},
      {"panel":"vy","group":"blue","style":"dashdot","x":0.38,"y":0.149},
      {"panel":"vy","group":"blue","style":"dashdot","x":0.413,"y":0.1355},
      {"panel":"vy","group":"blue","style":"dashdot","x":0.452,"y":0.1205},
      {"panel":"vy","group":"blue","style":"dashdot","x":0.482,"y":0.111},
      {"panel":"vy","group":"blue","style":"dashdot","x":0.527,"y":0.1005},
      {"panel":"vy","group":"blue","style":"dashdot","x":0.577,"y":0.0902},
      {"panel":"vy","group":"blue","style":"dashdot","x":0.6,"y":0.0864},
      {"panel":"vy","group":"blue","style":"dashdot","x":0.65,"y":0.0803},
      {"panel":"vy","group":"blue","style":"dashdot","x":0.7,"y":0.0756},
      {"panel":"vy","group":"blue","style":"dashdot","x":0.75,"y":0.0712},
      {"panel":"vy","group":"blue","style":"dashdot","x":0.8,"y":0.0672},
      {"panel":"vy","group":"blue","style":"dashdot","x":0.85,"y":0.0641},
      {"panel":"vy","group":"blue","style":"dashdot","x":0.9,"y":0.0618},
      {"panel":"vy","group":"blue","style":"dashdot","x":0.95,"y":0.0602},
      {"panel":"vy","group":"blue","style":"dashdot","x":1,"y":0.0589},

      {"panel":"vy","group":"orange","style":"solid","x":0.115,"y":0.325},
      {"panel":"vy","group":"orange","style":"solid","x":0.124,"y":0.3},
      {"panel":"vy","group":"orange","style":"solid","x":0.135,"y":0.275},
      {"panel":"vy","group":"orange","style":"solid","x":0.149,"y":0.25},
      {"panel":"vy","group":"orange","style":"solid","x":0.168,"y":0.224},
      {"panel":"vy","group":"orange","style":"solid","x":0.19,"y":0.2},
      {"panel":"vy","group":"orange","style":"solid","x":0.215,"y":0.175},
      {"panel":"vy","group":"orange","style":"solid","x":0.245,"y":0.152},
      {"panel":"vy","group":"orange","style":"solid","x":0.27,"y":0.1375},
      {"panel":"vy","group":"orange","style":"solid","x":0.295,"y":0.1255},
      {"panel":"vy","group":"orange","style":"solid","x":0.33,"y":0.1115},
      {"panel":"vy","group":"orange","style":"solid","x":0.359,"y":0.1012},
      {"panel":"vy","group":"orange","style":"solid","x":0.385,"y":0.0927},
      {"panel":"vy","group":"orange","style":"solid","x":0.412,"y":0.0862},
      {"panel":"vy","group":"orange","style":"solid","x":0.45,"y":0.0792},
      {"panel":"vy","group":"orange","style":"solid","x":0.5,"y":0.0722},
      {"panel":"vy","group":"orange","style":"solid","x":0.55,"y":0.0665},
      {"panel":"vy","group":"orange","style":"solid","x":0.6,"y":0.0617},
      {"panel":"vy","group":"orange","style":"solid","x":0.65,"y":0.0579},
      {"panel":"vy","group":"orange","style":"solid","x":0.7,"y":0.0552},
      {"panel":"vy","group":"orange","style":"solid","x":0.75,"y":0.0531},
      {"panel":"vy","group":"orange","style":"solid","x":0.8,"y":0.0513},
      {"panel":"vy","group":"orange","style":"solid","x":0.85,"y":0.0499},
      {"panel":"vy","group":"orange","style":"solid","x":0.9,"y":0.0488},
      {"panel":"vy","group":"orange","style":"solid","x":0.95,"y":0.048},
      {"panel":"vy","group":"orange","style":"solid","x":1,"y":0.0474},

      {"panel":"vy","group":"orange","style":"dashed","x":0.125,"y":0.325},
      {"panel":"vy","group":"orange","style":"dashed","x":0.134,"y":0.3},
      {"panel":"vy","group":"orange","style":"dashed","x":0.146,"y":0.275},
      {"panel":"vy","group":"orange","style":"dashed","x":0.161,"y":0.25},
      {"panel":"vy","group":"orange","style":"dashed","x":0.178,"y":0.224},
      {"panel":"vy","group":"orange","style":"dashed","x":0.197,"y":0.2},
      {"panel":"vy","group":"orange","style":"dashed","x":0.221,"y":0.175},
      {"panel":"vy","group":"orange","style":"dashed","x":0.25,"y":0.152},
      {"panel":"vy","group":"orange","style":"dashed","x":0.275,"y":0.1375},
      {"panel":"vy","group":"orange","style":"dashed","x":0.3,"y":0.1255},
      {"panel":"vy","group":"orange","style":"dashed","x":0.334,"y":0.1115},
      {"panel":"vy","group":"orange","style":"dashed","x":0.362,"y":0.1012},
      {"panel":"vy","group":"orange","style":"dashed","x":0.388,"y":0.0929},
      {"panel":"vy","group":"orange","style":"dashed","x":0.414,"y":0.0864},
      {"panel":"vy","group":"orange","style":"dashed","x":0.45,"y":0.0795},
      {"panel":"vy","group":"orange","style":"dashed","x":0.5,"y":0.0725},
      {"panel":"vy","group":"orange","style":"dashed","x":0.55,"y":0.0668},
      {"panel":"vy","group":"orange","style":"dashed","x":0.6,"y":0.062},
      {"panel":"vy","group":"orange","style":"dashed","x":0.65,"y":0.0582},
      {"panel":"vy","group":"orange","style":"dashed","x":0.7,"y":0.0555},
      {"panel":"vy","group":"orange","style":"dashed","x":0.75,"y":0.0534},
      {"panel":"vy","group":"orange","style":"dashed","x":0.8,"y":0.0516},
      {"panel":"vy","group":"orange","style":"dashed","x":0.85,"y":0.0502},
      {"panel":"vy","group":"orange","style":"dashed","x":0.9,"y":0.0491},
      {"panel":"vy","group":"orange","style":"dashed","x":0.95,"y":0.0483},
      {"panel":"vy","group":"orange","style":"dashed","x":1,"y":0.0477},

      {"panel":"vy","group":"orange","style":"dashdot","x":0.138,"y":0.325},
      {"panel":"vy","group":"orange","style":"dashdot","x":0.146,"y":0.3},
      {"panel":"vy","group":"orange","style":"dashdot","x":0.157,"y":0.275},
      {"panel":"vy","group":"orange","style":"dashdot","x":0.169,"y":0.25},
      {"panel":"vy","group":"orange","style":"dashdot","x":0.184,"y":0.224},
      {"panel":"vy","group":"orange","style":"dashdot","x":0.2,"y":0.2},
      {"panel":"vy","group":"orange","style":"dashdot","x":0.224,"y":0.175},
      {"panel":"vy","group":"orange","style":"dashdot","x":0.252,"y":0.152},
      {"panel":"vy","group":"orange","style":"dashdot","x":0.277,"y":0.1375},
      {"panel":"vy","group":"orange","style":"dashdot","x":0.302,"y":0.1255},
      {"panel":"vy","group":"orange","style":"dashdot","x":0.336,"y":0.1115},
      {"panel":"vy","group":"orange","style":"dashdot","x":0.364,"y":0.1012},
      {"panel":"vy","group":"orange","style":"dashdot","x":0.39,"y":0.093},
      {"panel":"vy","group":"orange","style":"dashdot","x":0.415,"y":0.0865},
      {"panel":"vy","group":"orange","style":"dashdot","x":0.45,"y":0.0796},
      {"panel":"vy","group":"orange","style":"dashdot","x":0.5,"y":0.0726},
      {"panel":"vy","group":"orange","style":"dashdot","x":0.55,"y":0.0669},
      {"panel":"vy","group":"orange","style":"dashdot","x":0.6,"y":0.0621},
      {"panel":"vy","group":"orange","style":"dashdot","x":0.65,"y":0.0583},
      {"panel":"vy","group":"orange","style":"dashdot","x":0.7,"y":0.0556},
      {"panel":"vy","group":"orange","style":"dashdot","x":0.75,"y":0.0535},
      {"panel":"vy","group":"orange","style":"dashdot","x":0.8,"y":0.0517},
      {"panel":"vy","group":"orange","style":"dashdot","x":0.85,"y":0.0503},
      {"panel":"vy","group":"orange","style":"dashdot","x":0.9,"y":0.0492},
      {"panel":"vy","group":"orange","style":"dashdot","x":0.95,"y":0.0484},
      {"panel":"vy","group":"orange","style":"dashdot","x":1,"y":0.0478},

      {"panel":"vy","group":"green","style":"solid","x":0.06,"y":0.325},
      {"panel":"vy","group":"green","style":"solid","x":0.0655,"y":0.3},
      {"panel":"vy","group":"green","style":"solid","x":0.072,"y":0.274},
      {"panel":"vy","group":"green","style":"solid","x":0.0793,"y":0.25},
      {"panel":"vy","group":"green","style":"solid","x":0.0885,"y":0.224},
      {"panel":"vy","group":"green","style":"solid","x":0.0998,"y":0.2},
      {"panel":"vy","group":"green","style":"solid","x":0.116,"y":0.173},
      {"panel":"vy","group":"green","style":"solid","x":0.136,"y":0.15},
      {"panel":"vy","group":"green","style":"solid","x":0.16,"y":0.1325},
      {"panel":"vy","group":"green","style":"solid","x":0.18,"y":0.1195},
      {"panel":"vy","group":"green","style":"solid","x":0.2,"y":0.1085},
      {"panel":"vy","group":"green","style":"solid","x":0.216,"y":0.101},
      {"panel":"vy","group":"green","style":"solid","x":0.25,"y":0.0905},
      {"panel":"vy","group":"green","style":"solid","x":0.3,"y":0.0795},
      {"panel":"vy","group":"green","style":"solid","x":0.35,"y":0.0705},
      {"panel":"vy","group":"green","style":"solid","x":0.4,"y":0.0632},
      {"panel":"vy","group":"green","style":"solid","x":0.45,"y":0.0583},
      {"panel":"vy","group":"green","style":"solid","x":0.5,"y":0.0552},
      {"panel":"vy","group":"green","style":"solid","x":0.55,"y":0.0528},
      {"panel":"vy","group":"green","style":"solid","x":0.6,"y":0.0509},
      {"panel":"vy","group":"green","style":"solid","x":0.7,"y":0.0475},
      {"panel":"vy","group":"green","style":"solid","x":0.8,"y":0.0451},
      {"panel":"vy","group":"green","style":"solid","x":0.9,"y":0.0436},
      {"panel":"vy","group":"green","style":"solid","x":1,"y":0.0428},

      {"panel":"vy","group":"green","style":"dashed","x":0.058,"y":0.325},
      {"panel":"vy","group":"green","style":"dashed","x":0.064,"y":0.3},
      {"panel":"vy","group":"green","style":"dashed","x":0.0705,"y":0.274},
      {"panel":"vy","group":"green","style":"dashed","x":0.0777,"y":0.25},
      {"panel":"vy","group":"green","style":"dashed","x":0.0865,"y":0.224},
      {"panel":"vy","group":"green","style":"dashed","x":0.0975,"y":0.2},
      {"panel":"vy","group":"green","style":"dashed","x":0.113,"y":0.173},
      {"panel":"vy","group":"green","style":"dashed","x":0.132,"y":0.15},
      {"panel":"vy","group":"green","style":"dashed","x":0.156,"y":0.1315},
      {"panel":"vy","group":"green","style":"dashed","x":0.176,"y":0.1185},
      {"panel":"vy","group":"green","style":"dashed","x":0.2,"y":0.1065},
      {"panel":"vy","group":"green","style":"dashed","x":0.25,"y":0.0888},
      {"panel":"vy","group":"green","style":"dashed","x":0.3,"y":0.078},
      {"panel":"vy","group":"green","style":"dashed","x":0.35,"y":0.0693},
      {"panel":"vy","group":"green","style":"dashed","x":0.4,"y":0.0623},
      {"panel":"vy","group":"green","style":"dashed","x":0.45,"y":0.0576},
      {"panel":"vy","group":"green","style":"dashed","x":0.5,"y":0.0546},
      {"panel":"vy","group":"green","style":"dashed","x":0.55,"y":0.0523},
      {"panel":"vy","group":"green","style":"dashed","x":0.6,"y":0.0505},
      {"panel":"vy","group":"green","style":"dashed","x":0.7,"y":0.0472},
      {"panel":"vy","group":"green","style":"dashed","x":0.8,"y":0.0449},
      {"panel":"vy","group":"green","style":"dashed","x":0.9,"y":0.0434},
      {"panel":"vy","group":"green","style":"dashed","x":1,"y":0.0426},

      {"panel":"vy","group":"green","style":"dashdot","x":0.059,"y":0.325},
      {"panel":"vy","group":"green","style":"dashdot","x":0.065,"y":0.3},
      {"panel":"vy","group":"green","style":"dashdot","x":0.0712,"y":0.274},
      {"panel":"vy","group":"green","style":"dashdot","x":0.0785,"y":0.25},
      {"panel":"vy","group":"green","style":"dashdot","x":0.0875,"y":0.224},
      {"panel":"vy","group":"green","style":"dashdot","x":0.0986,"y":0.2},
      {"panel":"vy","group":"green","style":"dashdot","x":0.1145,"y":0.173},
      {"panel":"vy","group":"green","style":"dashdot","x":0.134,"y":0.15},
      {"panel":"vy","group":"green","style":"dashdot","x":0.158,"y":0.132},
      {"panel":"vy","group":"green","style":"dashdot","x":0.178,"y":0.119},
      {"panel":"vy","group":"green","style":"dashdot","x":0.2,"y":0.1075},
      {"panel":"vy","group":"green","style":"dashdot","x":0.25,"y":0.0896},
      {"panel":"vy","group":"green","style":"dashdot","x":0.3,"y":0.0787},
      {"panel":"vy","group":"green","style":"dashdot","x":0.35,"y":0.0699},
      {"panel":"vy","group":"green","style":"dashdot","x":0.4,"y":0.0627},
      {"panel":"vy","group":"green","style":"dashdot","x":0.45,"y":0.0579},
      {"panel":"vy","group":"green","style":"dashdot","x":0.5,"y":0.0549},
      {"panel":"vy","group":"green","style":"dashdot","x":0.55,"y":0.0525},
      {"panel":"vy","group":"green","style":"dashdot","x":0.6,"y":0.0507},
      {"panel":"vy","group":"green","style":"dashdot","x":0.7,"y":0.0473},
      {"panel":"vy","group":"green","style":"dashdot","x":0.8,"y":0.045},
      {"panel":"vy","group":"green","style":"dashdot","x":0.9,"y":0.0435},
      {"panel":"vy","group":"green","style":"dashdot","x":1,"y":0.0427},

      {"panel":"vy","group":"red","style":"solid","x":0.05,"y":0.325},
      {"panel":"vy","group":"red","style":"solid","x":0.0548,"y":0.3},
      {"panel":"vy","group":"red","style":"solid","x":0.06,"y":0.277},
      {"panel":"vy","group":"red","style":"solid","x":0.0672,"y":0.25},
      {"panel":"vy","group":"red","style":"solid","x":0.0765,"y":0.224},
      {"panel":"vy","group":"red","style":"solid","x":0.0875,"y":0.2},
      {"panel":"vy","group":"red","style":"solid","x":0.102,"y":0.176},
      {"panel":"vy","group":"red","style":"solid","x":0.12,"y":0.152},
      {"panel":"vy","group":"red","style":"solid","x":0.14,"y":0.1335},
      {"panel":"vy","group":"red","style":"solid","x":0.16,"y":0.1195},
      {"panel":"vy","group":"red","style":"solid","x":0.18,"y":0.1085},
      {"panel":"vy","group":"red","style":"solid","x":0.2,"y":0.0995},
      {"panel":"vy","group":"red","style":"solid","x":0.25,"y":0.0845},
      {"panel":"vy","group":"red","style":"solid","x":0.3,"y":0.0748},
      {"panel":"vy","group":"red","style":"solid","x":0.35,"y":0.0672},
      {"panel":"vy","group":"red","style":"solid","x":0.4,"y":0.0612},
      {"panel":"vy","group":"red","style":"solid","x":0.45,"y":0.0566},
      {"panel":"vy","group":"red","style":"solid","x":0.5,"y":0.0533},
      {"panel":"vy","group":"red","style":"solid","x":0.55,"y":0.0508},
      {"panel":"vy","group":"red","style":"solid","x":0.6,"y":0.0489},
      {"panel":"vy","group":"red","style":"solid","x":0.7,"y":0.046},
      {"panel":"vy","group":"red","style":"solid","x":0.8,"y":0.0439},
      {"panel":"vy","group":"red","style":"solid","x":0.9,"y":0.0426},
      {"panel":"vy","group":"red","style":"solid","x":1,"y":0.0418},

      {"panel":"vy","group":"red","style":"dashed","x":0.042,"y":0.325},
      {"panel":"vy","group":"red","style":"dashed","x":0.0466,"y":0.3},
      {"panel":"vy","group":"red","style":"dashed","x":0.051,"y":0.276},
      {"panel":"vy","group":"red","style":"dashed","x":0.057,"y":0.25},
      {"panel":"vy","group":"red","style":"dashed","x":0.0655,"y":0.224},
      {"panel":"vy","group":"red","style":"dashed","x":0.0769,"y":0.2},
      {"panel":"vy","group":"red","style":"dashed","x":0.088,"y":0.176},
      {"panel":"vy","group":"red","style":"dashed","x":0.102,"y":0.152},
      {"panel":"vy","group":"red","style":"dashed","x":0.12,"y":0.13},
      {"panel":"vy","group":"red","style":"dashed","x":0.14,"y":0.1135},
      {"panel":"vy","group":"red","style":"dashed","x":0.163,"y":0.1005},
      {"panel":"vy","group":"red","style":"dashed","x":0.19,"y":0.0905},
      {"panel":"vy","group":"red","style":"dashed","x":0.212,"y":0.0842},
      {"panel":"vy","group":"red","style":"dashed","x":0.25,"y":0.0762},
      {"panel":"vy","group":"red","style":"dashed","x":0.28,"y":0.0712},
      {"panel":"vy","group":"red","style":"dashed","x":0.32,"y":0.0657},
      {"panel":"vy","group":"red","style":"dashed","x":0.363,"y":0.061},
      {"panel":"vy","group":"red","style":"dashed","x":0.4,"y":0.0578},
      {"panel":"vy","group":"red","style":"dashed","x":0.45,"y":0.0543},
      {"panel":"vy","group":"red","style":"dashed","x":0.5,"y":0.0516},
      {"panel":"vy","group":"red","style":"dashed","x":0.6,"y":0.0478},
      {"panel":"vy","group":"red","style":"dashed","x":0.7,"y":0.0452},
      {"panel":"vy","group":"red","style":"dashed","x":0.8,"y":0.0432},
      {"panel":"vy","group":"red","style":"dashed","x":0.9,"y":0.0419},
      {"panel":"vy","group":"red","style":"dashed","x":1,"y":0.041},

      {"panel":"vy","group":"red","style":"dashdot","x":0.034,"y":0.325},
      {"panel":"vy","group":"red","style":"dashdot","x":0.0385,"y":0.3},
      {"panel":"vy","group":"red","style":"dashdot","x":0.0425,"y":0.275},
      {"panel":"vy","group":"red","style":"dashdot","x":0.0475,"y":0.25},
      {"panel":"vy","group":"red","style":"dashdot","x":0.0545,"y":0.224},
      {"panel":"vy","group":"red","style":"dashdot","x":0.063,"y":0.2},
      {"panel":"vy","group":"red","style":"dashdot","x":0.071,"y":0.178},
      {"panel":"vy","group":"red","style":"dashdot","x":0.08,"y":0.156},
      {"panel":"vy","group":"red","style":"dashdot","x":0.099,"y":0.127},
      {"panel":"vy","group":"red","style":"dashdot","x":0.12,"y":0.1084},
      {"panel":"vy","group":"red","style":"dashdot","x":0.152,"y":0.0934},
      {"panel":"vy","group":"red","style":"dashdot","x":0.189,"y":0.0821},
      {"panel":"vy","group":"red","style":"dashdot","x":0.25,"y":0.0701},
      {"panel":"vy","group":"red","style":"dashdot","x":0.318,"y":0.0619},
      {"panel":"vy","group":"red","style":"dashdot","x":0.393,"y":0.0559},
      {"panel":"vy","group":"red","style":"dashdot","x":0.45,"y":0.0525},
      {"panel":"vy","group":"red","style":"dashdot","x":0.5,"y":0.05},
      {"panel":"vy","group":"red","style":"dashdot","x":0.6,"y":0.0467},
      {"panel":"vy","group":"red","style":"dashdot","x":0.7,"y":0.0443},
      {"panel":"vy","group":"red","style":"dashdot","x":0.8,"y":0.0424},
      {"panel":"vy","group":"red","style":"dashdot","x":0.9,"y":0.0412},
      {"panel":"vy","group":"red","style":"dashdot","x":1,"y":0.0403}
    ]
  },
  "hconcat": [
    {
      "width": 1020,
      "height": 1530,
      "title": "Independent Samples/Look Direction: 25",
      "data": {"name": "curves"},
      "transform": [{"filter": "datum.panel == 'vx'"}],
      "mark": {"type": "line", "clip": true, "interpolate": "monotone", "strokeWidth": 7},
      "encoding": {
        "x": {
          "field": "x", "type": "quantitative",
          "scale": {"domain": [0, 1], "nice": false},
          "axis": {"title": "Normalized Cross-Track Distance", "format": ".1f", "values": [0, 0.2, 0.4, 0.6, 0.8, 1]}
        },
        "y": {
          "field": "y", "type": "quantitative",
          "scale": {"domain": [0, 0.3], "nice": false},
          "axis": {"title": "vₓ STD (m/s)", "format": ".2f", "values": [0, 0.05, 0.1, 0.15, 0.2, 0.25, 0.3]}
        },
        "color": {
          "field": "group", "type": "nominal",
          "scale": {"domain": ["blue", "orange", "green", "red"], "range": ["#1f77b4", "#ff7f0e", "#2ca02c", "#d62728"]},
          "legend": null
        },
        "strokeDash": {
          "field": "style", "type": "nominal",
          "scale": {"domain": ["solid", "dashed", "dashdot"], "range": [[1, 0], [30, 12], [52, 12, 7, 12]]},
          "legend": null
        }
      }
    },
    {
      "width": 1020,
      "height": 1530,
      "title": "Independent Samples/Look Direction: 25",
      "data": {"name": "curves"},
      "transform": [{"filter": "datum.panel == 'vy'"}],
      "mark": {"type": "line", "clip": true, "interpolate": "monotone", "strokeWidth": 7},
      "encoding": {
        "x": {
          "field": "x", "type": "quantitative",
          "scale": {"domain": [0, 1], "nice": false},
          "axis": {"title": "Normalized Cross-Track Distance", "format": ".1f", "values": [0, 0.2, 0.4, 0.6, 0.8, 1]}
        },
        "y": {
          "field": "y", "type": "quantitative",
          "scale": {"domain": [0, 0.3], "nice": false},
          "axis": {"title": "vᵧ STD (m/s)", "format": ".2f", "values": [0, 0.05, 0.1, 0.15, 0.2, 0.25, 0.3]}
        },
        "color": {
          "field": "group", "type": "nominal",
          "scale": {"domain": ["blue", "orange", "green", "red"], "range": ["#1f77b4", "#ff7f0e", "#2ca02c", "#d62728"]},
          "legend": null
        },
        "strokeDash": {
          "field": "style", "type": "nominal",
          "scale": {"domain": ["solid", "dashed", "dashdot"], "range": [[1, 0], [30, 12], [52, 12, 7, 12]]},
          "legend": null
        }
      }
    }
  ],
  "resolve": {"scale": {"color": "shared", "strokeDash": "shared"}},
  "config": {
    "font": "Liberation Sans",
    "view": {"stroke": "#cccccc", "strokeWidth": 4.5},
    "axis": {
      "grid": true,
      "gridColor": "#cccccc",
      "gridWidth": 3.5,
      "domain": false,
      "ticks": false,
      "tickSize": 0,
      "labelFont": "Liberation Sans",
      "labelFontSize": 44,
      "labelColor": "#262626",
      "labelFlush": false,
      "labelOverlap": false,
      "titleFont": "Liberation Sans",
      "titleFontSize": 50,
      "titleFontWeight": "normal",
      "titleColor": "#262626"
    },
    "axisX": {"labelPadding": 24, "titlePadding": 10},
    "axisY": {"labelPadding": 35, "titlePadding": 16},
    "title": {"font": "Liberation Sans", "fontSize": 54, "fontWeight": "normal", "color": "#262626", "frame": "group", "baseline": "alphabetic", "offset": -10}
  }
}
